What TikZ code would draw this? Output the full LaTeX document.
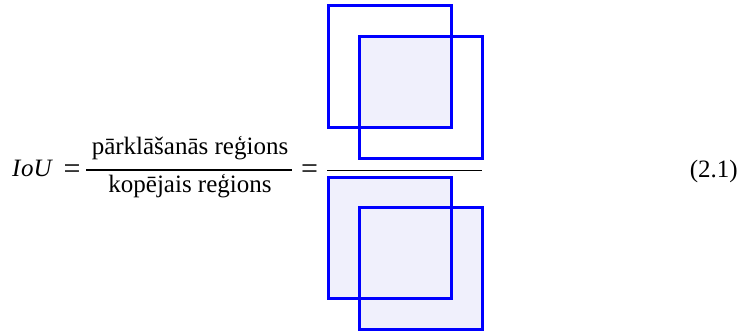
\documentclass[tikz,border=0pt]{standalone}
\usepackage{fontspec}
\setmainfont{Liberation Serif}
\definecolor{sqblue}{RGB}{0,0,255}
\definecolor{sqfill}{RGB}{240,240,252}
\begin{document}
\begin{tikzpicture}[x=1pt,y=-1pt,
  txt/.style={inner sep=0pt,anchor=base,font=\rmfamily\fontsize{25}{30}\selectfont},
  eqs/.style={inner sep=0pt,anchor=base,font=\rmfamily\fontsize{30}{36}\selectfont},
  sq/.style={draw=sqblue,line width=3pt},
  bar/.style={draw=black,line width=1.3pt}]
\useasboundingbox (0,0) rectangle (746,330);
% text
\node[txt,anchor=base west] (iou) at (12,176) {\itshape I\kern0.5ptoU};
\node[eqs] (eq1) at (72,178) {=};
\node[txt] (num) at (190,154) {pārklāšanās reģions};
\node[txt] (den) at (190,192) {kopējais reģions};
\coordinate (b1l) at (86,170);
\coordinate (b1r) at (292,170);
\draw[bar] (b1l) -- (b1r);
\node[eqs] (eq2) at (309.5,178) {=};
\coordinate (b2l) at (327,170.5);
\coordinate (b2r) at (482,170.5);
\draw[bar] (b2l) -- (b2r);
\node[txt,anchor=base east] (eqn) at (738,177) {(2.1)};
% top: intersection
\fill[sqfill] (359,36) rectangle (451,127);
\draw[sq] (328,5) rectangle (451,127);
\draw[sq] (359,36) rectangle (482,158);
% bottom: union
\fill[sqfill] (328,177) rectangle (451,298);
\fill[sqfill] (359,207) rectangle (482,329);
\draw[sq] (328,177) rectangle (451,298);
\draw[sq] (359,207) rectangle (482,329);
\end{tikzpicture}
\end{document}
